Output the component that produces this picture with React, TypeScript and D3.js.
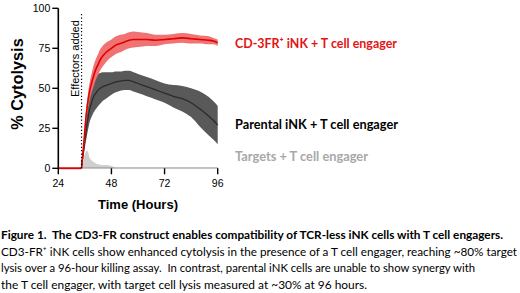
import React from "react";
import * as d3 from "d3";

// ---- data ----
const xTicks = [24, 48, 72, 96];
const yTicks = [0, 25, 50, 75, 100];
const effectorsTime = 34.5;

const preTimes = [24, 34.5];
const preValues = [0, 0];

const times = [34.5, 35, 35.5, 36, 36.5, 37, 37.5, 38, 39, 40, 41, 42, 43, 44, 46, 48, 50, 52, 54, 56, 58, 60, 64, 68, 72, 76, 80, 84, 88, 92, 94, 96];
const redMean = [0, 8, 15, 24, 32, 38, 43, 47, 53, 58, 62, 65, 68, 70, 73, 75, 77, 78, 79, 80, 80.5, 80.5, 80.5, 80, 80.5, 81, 81.5, 81, 80.5, 80, 79.5, 78.5];
const redErr = [0, 1.5, 2.5, 3.5, 4, 4.5, 5, 5.5, 6, 6.5, 6.5, 6.5, 6.5, 6.5, 6, 5.5, 5.5, 5.5, 5, 5, 5, 4.7, 4, 3.5, 3, 3, 3, 3, 2.5, 2.5, 2, 2];

const blackMean = [0, 7, 12, 18, 23, 28, 32, 36, 41, 45, 47, 49, 50, 51, 52, 53, 54, 54.5, 55, 55, 54, 53, 51, 49, 47, 45, 43.5, 41, 37, 32.5, 30, 27];
const blackErr = [0, 3, 4, 5, 6, 7, 7.5, 8, 9, 10, 10, 10, 9.5, 9, 8, 7, 6.5, 6, 6, 6, 6, 6, 6, 6, 6, 7, 8, 9, 11, 12, 12, 12];

const grayTimes = [34.5, 35, 36, 37, 37.5, 38, 39, 40, 41, 42, 44, 46, 48, 49, 50, 96];
const grayValues = [0, 3, 9, 11, 10, 7, 5, 4, 3, 2.5, 2, 2, 1.5, 1, 0, 0];

const seriesLabels = ["CD-3FR\u207A iNK + T cell engager", "Parental iNK + T cell engager", "Targets + T cell engager"];

const captionTitle = "Figure 1.  The CD3-FR construct enables compatibility of TCR-less iNK cells with T cell engagers.";
const captionLines = [
  "CD3-FR\u207A iNK cells show enhanced cytolysis in the presence of a T cell engager, reaching ~80% target",
  "lysis over a 96-hour killing assay.  In contrast, parental iNK cells are unable to show synergy with",
  "the T cell engager, with target cell lysis measured at ~30% at 96 hours.",
];

export default function App() {
  const x = d3.scaleLinear().domain([24, 96]).range([58.3, 217.7]);
  const y = d3.scaleLinear().domain([0, 100]).range([168.3, 8.3]);

  const idx = times.map((_, i) => i);
  const band = (mean: number[], err: number[]) =>
    d3
      .area<number>()
      .x((i) => x(times[i]))
      .y0((i) => y(Math.max(0, mean[i] - err[i])))
      .y1((i) => y(mean[i] + err[i]))
      .curve(d3.curveMonotoneX)(idx) as string;
  const meanLine = (mean: number[]) =>
    d3
      .line<number>()
      .x((i) => x(times[i]))
      .y((i) => y(mean[i]))
      .curve(d3.curveMonotoneX)(idx) as string;

  const grayArea = d3
    .area<number>()
    .x((i) => x(grayTimes[i]))
    .y0(y(0))
    .y1((i) => y(grayValues[i]))
    .curve(d3.curveMonotoneX)(grayTimes.map((_, i) => i)) as string;

  const preLine = d3
    .line<number>()
    .x((i) => x(preTimes[i]))
    .y((i) => y(preValues[i]))(preTimes.map((_, i) => i)) as string;

  const x0 = x(24);
  const y0 = y(0);
  const arial = "Arial, 'Liberation Sans', sans-serif";
  const cal = "Lato, 'Open Sans', sans-serif";

  return (
    <svg
      width={520}
      height={293}
      style={{ position: "absolute", left: 0, top: 0, background: "#fff" }}
    >
      {/* gray targets area */}
      <path d={grayArea} fill="#cfcfcf" stroke="none" />

      {/* parental band */}
      <path d={band(blackMean, blackErr)} fill="#595959" />
      <path d={meanLine(blackMean)} fill="none" stroke="#2b2b2b" strokeWidth={1.3} />

      {/* red band */}
      <path d={band(redMean, redErr)} fill="#f07272" />
      <path d={meanLine(redMean)} fill="none" stroke="#e00000" strokeWidth={1.6} />

      {/* axes */}
      <line x1={x0} x2={x0} y1={y(100)} y2={y0 + 0.8} stroke="#000" strokeWidth={1.6} />
      <line x1={x0} x2={x(96)} y1={y0} y2={y0} stroke="#000" strokeWidth={1.3} />
      <path d={preLine} fill="none" stroke="#e00000" strokeWidth={1.8} />
      <line x1={x(effectorsTime)} x2={x(96)} y1={y0} y2={y0} stroke="#c4c4c4" strokeWidth={1.6} />

      {yTicks.map((t) => (
        <g key={"y" + t}>
          <line x1={x0 - 6} x2={x0} y1={y(t)} y2={y(t)} stroke="#000" strokeWidth={1.4} />
          <text
            x={x0 - 8}
            y={y(t)}
            dy="0.35em"
            textAnchor="end"
            fontFamily={arial}
            fontSize={10.5}
            fill="#000"
          >
            {t}
          </text>
        </g>
      ))}
      {xTicks.map((t) => (
        <g key={"x" + t}>
          <line x1={x(t)} x2={x(t)} y1={y0} y2={y0 + 6} stroke="#000" strokeWidth={1.4} />
          <text
            x={x(t)}
            y={y0 + 19}
            textAnchor="middle"
            fontFamily={arial}
            fontSize={10.5}
            fill="#000"
          >
            {t}
          </text>
        </g>
      ))}

      {/* effectors added */}
      <line
        x1={x(effectorsTime)}
        x2={x(effectorsTime)}
        y1={y(0)}
        y2={y(97)}
        stroke="#000"
        strokeWidth={1.2}
        strokeDasharray="1.2 2.2"
      />
      <text
        transform={`translate(${x(effectorsTime) - 2.5},97) rotate(-90)`}
        fontFamily={arial}
        fontSize={11}
        fill="#000"
      >
        Effectors added
      </text>

      {/* axis titles */}
      <text
        transform={`translate(23,84) rotate(-90)`}
        textAnchor="middle"
        fontFamily={arial}
        fontWeight="bold"
        fontSize={16.3}
        fill="#000"
      >
        % Cytolysis
      </text>
      <text
        x={138}
        y={209}
        textAnchor="middle"
        fontFamily={arial}
        fontWeight="bold"
        fontSize={13}
        fill="#000"
      >
        Time (Hours)
      </text>

      {/* series labels */}
      <text x={235} y={48} fontFamily={cal} fontWeight="bold" fontSize={14} fill="#e31414" textLength={162} lengthAdjust="spacingAndGlyphs">
        {seriesLabels[0]}
      </text>
      <text x={235} y={129} fontFamily={cal} fontWeight="bold" fontSize={14} fill="#000" textLength={163} lengthAdjust="spacingAndGlyphs">
        {seriesLabels[1]}
      </text>
      <text x={235} y={161} fontFamily={cal} fontWeight="bold" fontSize={14} fill="#a8a8a8" textLength={133} lengthAdjust="spacingAndGlyphs">
        {seriesLabels[2]}
      </text>

      {/* caption */}
      <text x={1} y={239} fontFamily={cal} fontWeight="bold" fontSize={11.8} fill="#000" textLength={502} lengthAdjust="spacingAndGlyphs" style={{ whiteSpace: "pre" }}>
        {captionTitle}
      </text>
      <text x={1} y={255.5} fontFamily={cal} fontSize={11.6} fill="#000" textLength={516} lengthAdjust="spacingAndGlyphs" style={{ whiteSpace: "pre" }}>
        {captionLines[0]}
      </text>
      <text x={1} y={272} fontFamily={cal} fontSize={11.8} fill="#000" textLength={474} lengthAdjust="spacingAndGlyphs" style={{ whiteSpace: "pre" }}>
        {captionLines[1]}
      </text>
      <text x={1} y={288.5} fontFamily={cal} fontSize={11.8} fill="#000" textLength={366} lengthAdjust="spacingAndGlyphs" style={{ whiteSpace: "pre" }}>
        {captionLines[2]}
      </text>
    </svg>
  );
}
